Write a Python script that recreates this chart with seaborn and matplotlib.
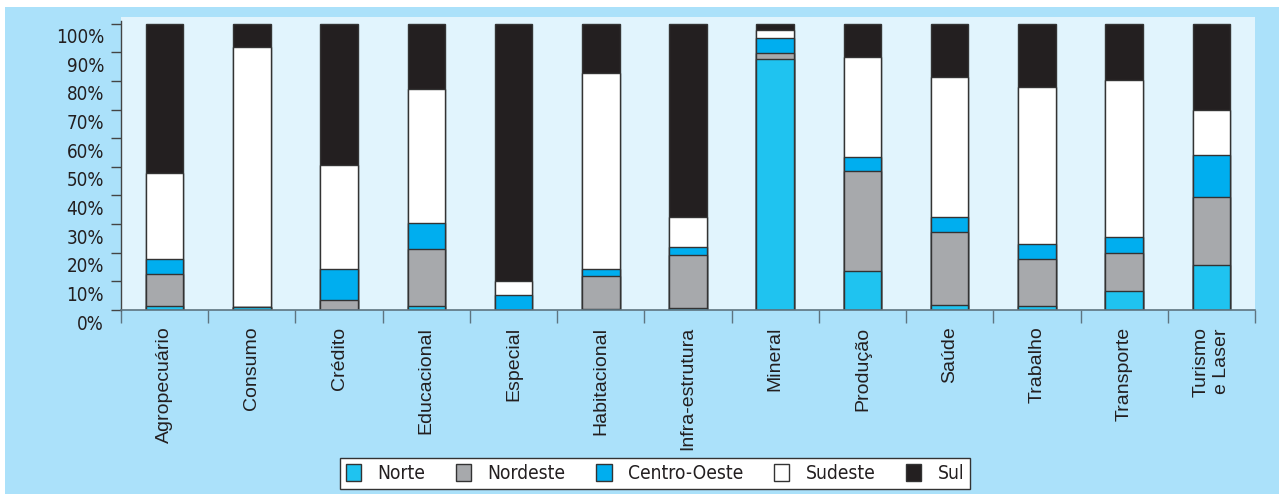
import matplotlib
matplotlib.use("Agg")
import matplotlib.pyplot as plt
from matplotlib.patches import Patch, Rectangle
from matplotlib.font_manager import FontProperties
from matplotlib.transforms import ScaledTranslation
import seaborn as sns
import pandas as pd
import numpy as np

categories = ["Agropecuário", "Consumo", "Crédito", "Educacional", "Especial",
              "Habitacional", "Infra-estrutura", "Mineral", "Produção", "Saúde",
              "Trabalho", "Transporte", "Turismo\ne Laser"]
regions = ["Norte", "Nordeste", "Centro-Oeste", "Sudeste", "Sul"]

norte        = [1.5, 1.0, 0.0, 1.5, 0.0, 0.3, 0.6, 87.5, 13.7, 1.8, 1.5, 6.8, 15.7]
nordeste     = [11.1, 0.0, 3.5, 19.7, 0.0, 11.6, 18.7, 2.1, 35.0, 25.4, 16.4, 13.0, 23.8]
centro_oeste = [5.2, 0.0, 10.7, 9.3, 5.4, 2.3, 2.8, 5.3, 4.6, 5.4, 5.1, 5.6, 14.5]
sudeste      = [30.2, 91.0, 36.3, 46.5, 4.8, 68.6, 10.5, 3.0, 35.2, 48.7, 55.0, 54.8, 15.7]
sul          = [52.0, 8.0, 49.5, 23.0, 89.8, 17.2, 67.4, 2.1, 11.5, 18.7, 22.0, 19.8, 30.3]

y_ticks = [0, 10, 20, 30, 40, 50, 60, 70, 80, 90, 100]
y_ticklabels = [f"{v}%" for v in y_ticks]

colors = {"Norte": "#1FC3F0", "Nordeste": "#A7A9AC", "Centro-Oeste": "#00AEEF",
          "Sudeste": "#FFFFFF", "Sul": "#231F20"}

series = [norte, nordeste, centro_oeste, sudeste, sul]
cum = np.cumsum(np.array(series), axis=0)
rows = []
for ri, reg in enumerate(regions):
    for ci, cat in enumerate(categories):
        rows.append({"categoria": cat, "regiao": reg, "topo": cum[ri, ci]})
df = pd.DataFrame(rows)

sns.set_theme(style="white")
plt.rcParams["font.family"] = ["Liberation Sans", "DejaVu Sans"]

def narrow(size):
    return FontProperties(family=["Liberation Sans Narrow", "DejaVu Sans"],
                          stretch="condensed", size=size)

W, H = 1279, 494
fig = plt.figure(figsize=(W / 100, H / 100), dpi=100, facecolor="white")
fig.patches.append(Rectangle((5 / W, 0), 1 - 5 / W, (H - 7) / H,
                             transform=fig.transFigure, facecolor="#ABE1FA",
                             edgecolor="none", zorder=-10))
ax = fig.add_axes([121 / W, (H - 310) / H, (1255 - 121) / W, (310 - 17) / H])
ax.set_zorder(1)
ax.set_facecolor("#E1F4FD")

for reg in reversed(regions):
    sub = df[df["regiao"] == reg]
    sns.barplot(data=sub, x="categoria", y="topo", order=categories,
                color=colors[reg], saturation=1, width=0.43,
                edgecolor="#333333", linewidth=1.0, ax=ax, errorbar=None)

ax.set_xlim(-0.5, len(categories) - 0.5)
ax.set_ylim(0, 102.3)
ax.set_xlabel("")
ax.set_ylabel("")
ax.set_yticks(y_ticks)
ax.set_yticklabels(y_ticklabels, fontproperties=narrow(13.5), color="#231F20")
ax.tick_params(axis="y", direction="out", length=7.2, width=1.0, color="#444444",
               pad=5.0, left=True)
ax.set_xticks(range(len(categories)))
ax.set_xticklabels(categories, rotation=90, ha="center", va="top",
                   multialignment="center", fontsize=14, color="#231F20")
ax.tick_params(axis="x", which="major", length=0, pad=12)
ax.set_xticks(np.arange(-0.5, len(categories), 1.0), minor=True)
ax.tick_params(axis="x", which="minor", direction="out", length=9, width=1.0,
               color="#5E7480", bottom=True)

shift = ScaledTranslation(0, -12 / 100, fig.dpi_scale_trans)
for lbl in ax.get_yticklabels():
    lbl.set_transform(lbl.get_transform() + shift)

for s in ["top", "right"]:
    ax.spines[s].set_visible(False)
ax.spines["left"].set_color("#444444")
ax.spines["left"].set_linewidth(1.0)
ax.spines["left"].set_bounds(0, 101)
ax.spines["bottom"].set_color("#5E7480")
ax.spines["bottom"].set_linewidth(1.2)

handles = [Patch(facecolor=colors[r], edgecolor="#333333", linewidth=1.0, label=r)
           for r in regions]
leg = fig.legend(handles=handles, loc="center", bbox_to_anchor=(655 / W, 20.5 / H),
                 ncol=5, frameon=True, fancybox=False, edgecolor="#333333",
                 facecolor="white", framealpha=1, handlelength=0.8, handleheight=1.0,
                 handletextpad=0.85, columnspacing=1.6, borderpad=0.3,
                 borderaxespad=0, prop=narrow(13.8))
leg.get_frame().set_linewidth(1.0)
for t in leg.get_texts():
    t.set_color("#231F20")

fig.savefig("out.png", dpi=100, facecolor=fig.get_facecolor())
